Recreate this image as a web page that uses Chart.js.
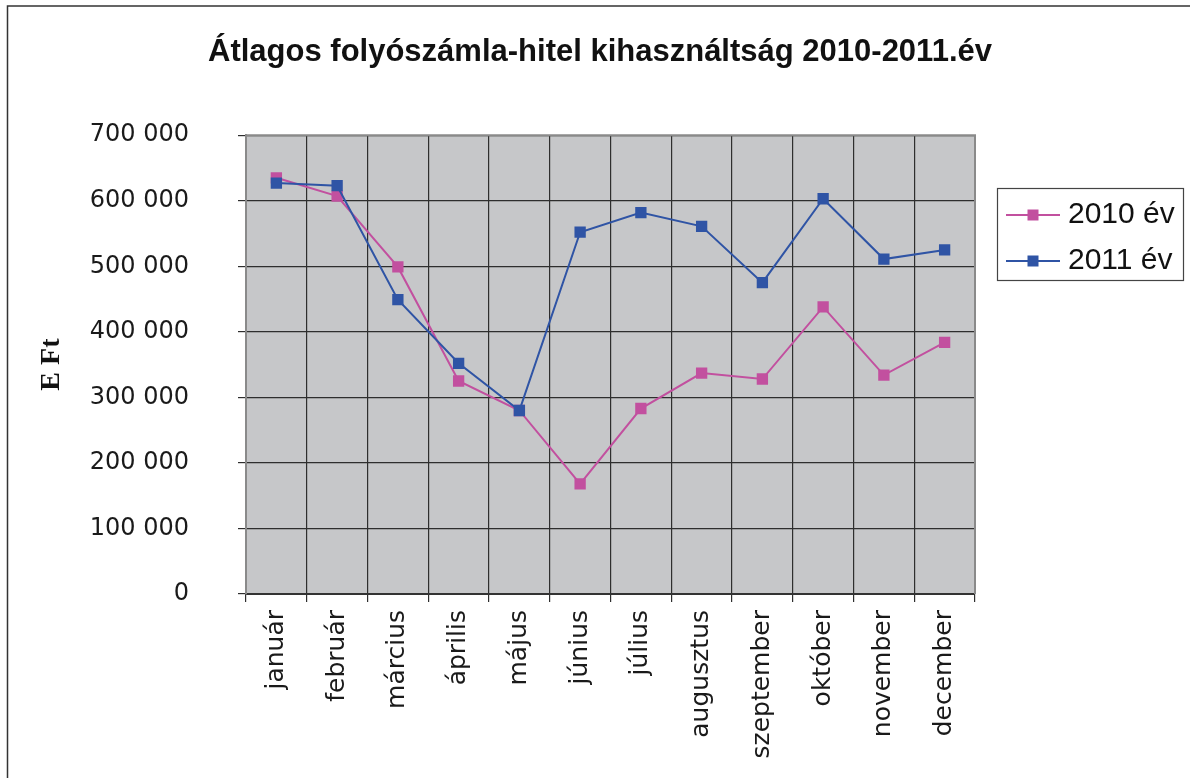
<!DOCTYPE html>
<html>
<head>
<meta charset="utf-8">
<script src="https://cdn.jsdelivr.net/npm/chart.js@4.4.1/dist/chart.umd.min.js"></script>
<style>
html,body{margin:0;padding:0;background:#fff;}
#wrap{width:1190px;height:778px;position:relative;}
</style>
</head>
<body>
<div id="wrap"><canvas id="c" width="1190" height="778"></canvas></div>
<script>
const chartTitle = 'Átlagos folyószámla-hitel kihasználtság 2010-2011.év';
const yAxisTitle = 'E Ft';
const months = ['január','február','március','április','május','június','július','augusztus','szeptember','október','november','december'];
const seriesNames = ['2010 év','2011 év'];
const values2010 = [635000, 607000, 499000, 325000, 280000, 168000, 283000, 337000, 328000, 438000, 334000, 384000];
const values2011 = [627000, 623000, 449000, 352000, 280000, 552000, 582000, 561000, 475000, 603000, 511000, 525000];
const yTickLabels = ['0','100 000','200 000','300 000','400 000','500 000','600 000','700 000'];

const color2010 = '#c2509f';
const color2011 = '#2f54a5';

function makeLegendIcon(color) {
  const cv = document.createElement('canvas');
  cv.width = 54; cv.height = 14;
  const g = cv.getContext('2d');
  g.strokeStyle = color; g.lineWidth = 2;
  g.beginPath(); g.moveTo(0, 7); g.lineTo(54, 7); g.stroke();
  g.fillStyle = color;
  g.fillRect(21.5, 1.5, 11, 11);
  return cv;
}
const legendIcons = [makeLegendIcon(color2010), makeLegendIcon(color2011)];

const LEG = {left: 997, top: 188, right: 1183, bottom: 280};

const framePlugin = {
  id: 'framePlugin',
  beforeLayout(chart) {
    const lg = chart.legend;
    if (lg && !lg._patched) {
      const orig = lg.fit;
      lg.fit = function () { orig.call(this); this.width = 215; };
      lg._patched = true;
    }
  },
  afterLayout(chart) {
    const lg = chart.legend;
    if (!lg) return;
    lg.left = LEG.left; lg.right = LEG.right;
    lg.top = 184; lg.bottom = 300;
    lg.width = LEG.right - LEG.left; lg.height = lg.bottom - lg.top;
  },
  beforeDraw(chart) {
    const ctx = chart.ctx;
    ctx.save();
    ctx.fillStyle = '#ffffff';
    ctx.fillRect(0, 0, chart.width, chart.height);
    ctx.strokeStyle = '#333333';
    ctx.lineWidth = 1.5;
    ctx.beginPath();
    ctx.moveTo(7.5, chart.height + 2);
    ctx.lineTo(7.5, 6);
    ctx.lineTo(chart.width + 2, 6);
    ctx.stroke();
    const a = chart.chartArea;
    ctx.fillStyle = '#c6c7c9';
    ctx.fillRect(a.left, a.top, a.right - a.left, a.bottom - a.top);
    ctx.restore();
  },
  beforeDatasetsDraw(chart) {
    const ctx = chart.ctx;
    const a = chart.chartArea;
    ctx.save();
    ctx.strokeStyle = '#8a8a8a';
    ctx.lineWidth = 2;
    ctx.beginPath();
    ctx.moveTo(a.left, a.bottom);
    ctx.lineTo(a.left, a.top);
    ctx.lineTo(a.right, a.top);
    ctx.lineTo(a.right, a.bottom);
    ctx.stroke();
    ctx.restore();
  },
  afterDraw(chart) {
    const ctx = chart.ctx;
    ctx.save();
    ctx.strokeStyle = '#444444';
    ctx.lineWidth = 1.2;
    ctx.strokeRect(LEG.left + 0.5, LEG.top + 0.5, LEG.right - LEG.left, LEG.bottom - LEG.top);
    ctx.restore();
  }
};

const ctx = document.getElementById('c').getContext('2d');
new Chart(ctx, {
  type: 'line',
  data: {
    labels: months,
    datasets: [
      {
        label: seriesNames[0],
        data: values2010,
        borderColor: color2010,
        backgroundColor: color2010,
        pointBackgroundColor: color2010,
        pointBorderColor: color2010,
        borderWidth: 2,
        pointStyle: 'rect',
        pointRadius: 8,
        pointBorderWidth: 0,
        tension: 0,
        order: 1
      },
      {
        label: seriesNames[1],
        data: values2011,
        borderColor: color2011,
        backgroundColor: color2011,
        pointBackgroundColor: color2011,
        pointBorderColor: color2011,
        borderWidth: 2,
        pointStyle: 'rect',
        pointRadius: 8,
        pointBorderWidth: 0,
        tension: 0,
        order: 0
      }
    ]
  },
  options: {
    responsive: false,
    devicePixelRatio: 1,
    animation: false,
    layout: {padding: {left: 10, top: 0, right: 0, bottom: 0}},
    plugins: {
      title: {
        display: true,
        text: chartTitle,
        color: '#111111',
        font: {family: '"Liberation Sans", Arial, sans-serif', size: 31, weight: 'bold', lineHeight: 1.2},
        padding: {top: 34, bottom: 64}
      },
      legend: {
        display: true,
        position: 'right',
        align: 'start',
        labels: {
          usePointStyle: true,
          pointStyleWidth: 40,
          padding: 16,
          color: '#111111',
          font: {family: '"Liberation Sans", Arial, sans-serif', size: 30},
          generateLabels(chart) {
            const items = Chart.defaults.plugins.legend.labels.generateLabels(chart);
            items.sort((a, b) => a.datasetIndex - b.datasetIndex);
            items.forEach(it => { it.pointStyle = legendIcons[it.datasetIndex]; });
            return items;
          }
        }
      },
      tooltip: {enabled: false}
    },
    scales: {
      x: {
        type: 'category',
        offset: true,
        grid: {
          display: true,
          offset: true,
          color: '#2e2e2e',
          lineWidth: 1.2,
          drawTicks: true,
          tickLength: 8,
          tickColor: '#2e2e2e'
        },
        border: {display: true, color: '#333333', width: 2},
        ticks: {
          autoSkip: false,
          maxRotation: 90,
          minRotation: 90,
          padding: 8,
          color: '#1a1a1a',
          font: {family: '"DejaVu Sans", Verdana, sans-serif', size: 25}
        },
        afterFit(scale) { scale.height = 184; }
      },
      y: {
        min: 0,
        max: 700000,
        grid: {
          color: '#2e2e2e',
          lineWidth: 1.2,
          drawTicks: true,
          tickLength: 8,
          tickColor: '#2e2e2e'
        },
        border: {display: true, color: '#8a8a8a', width: 2},
        ticks: {
          stepSize: 100000,
          padding: 49,
          color: '#1a1a1a',
          font: {family: '"DejaVu Sans", Verdana, sans-serif', size: 24},
          callback: (value, index) => yTickLabels[index]
        },
        title: {
          display: true,
          text: yAxisTitle,
          color: '#111111',
          font: {family: '"Liberation Serif", "Times New Roman", serif', size: 28, weight: 'bold', lineHeight: 1.2},
          padding: {top: 25, bottom: 0}
        },
        afterFit(scale) { scale.width = 236; }
      }
    }
  },
  plugins: [framePlugin]
});
</script>
</body>
</html>
